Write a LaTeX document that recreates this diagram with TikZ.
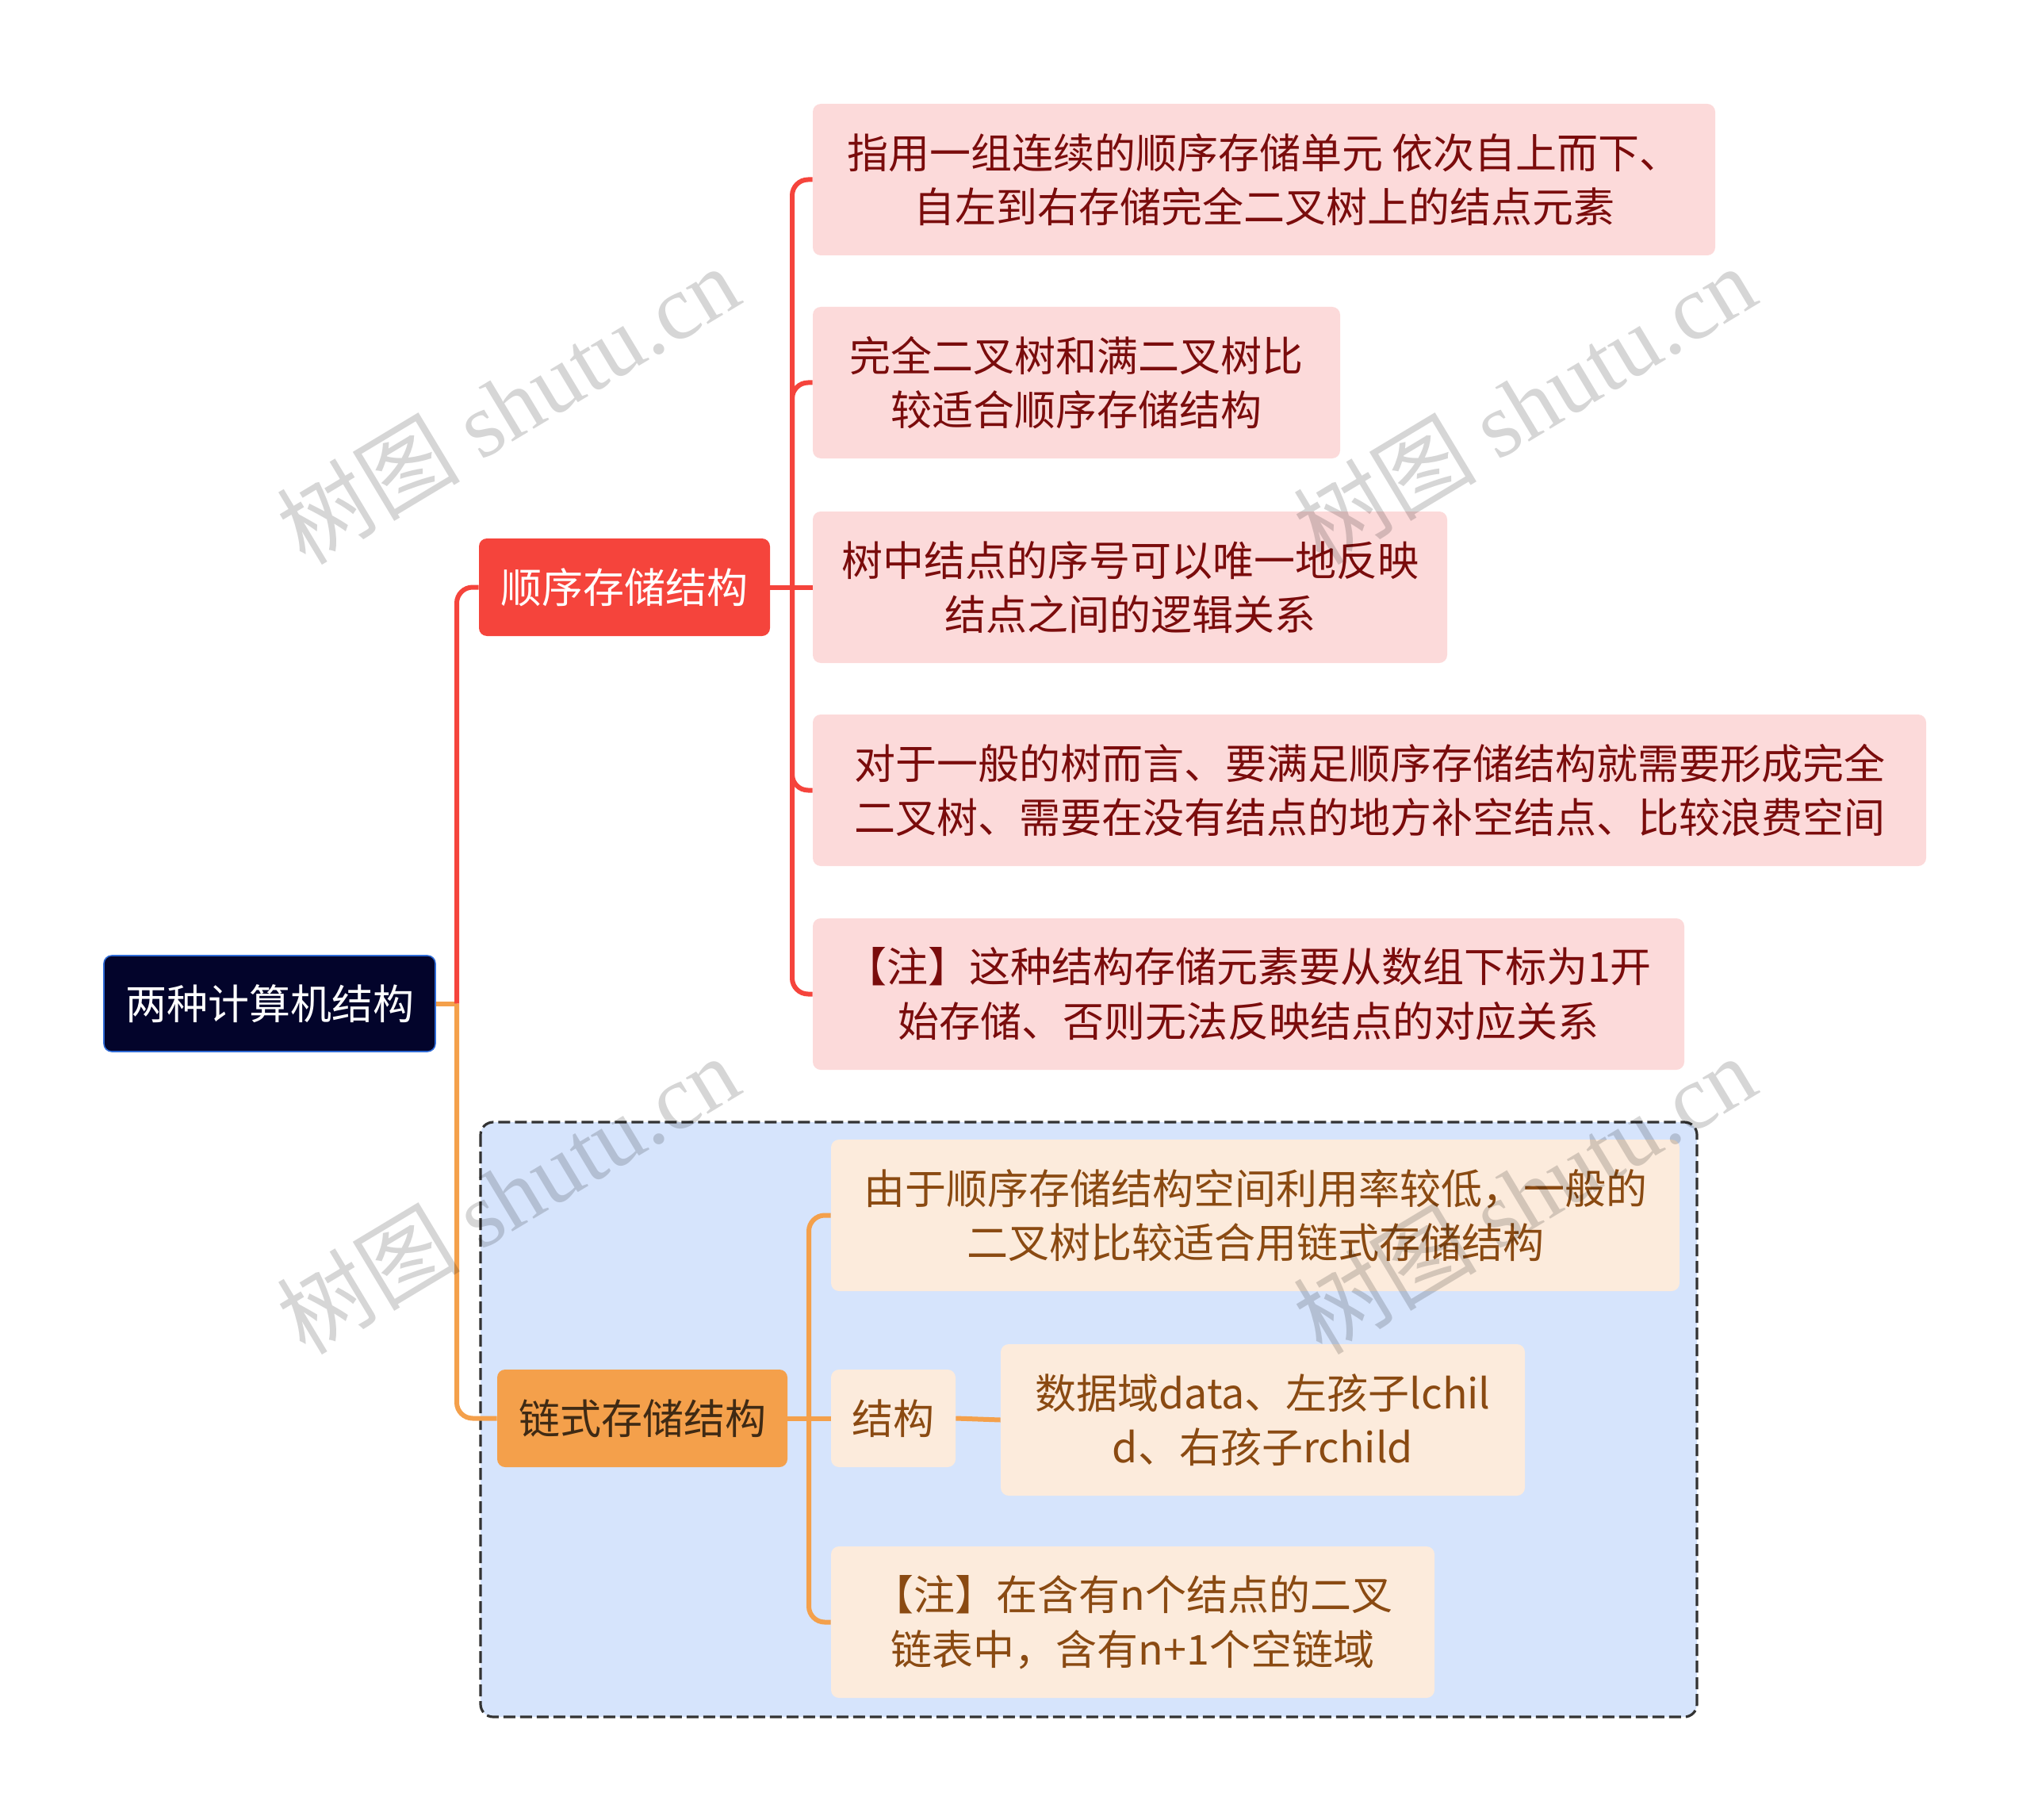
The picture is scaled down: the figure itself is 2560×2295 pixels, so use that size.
\documentclass[tikz,border=0pt]{standalone}
\usepackage{fontspec}
\setmainfont{Noto Sans CJK SC}
\newfontfamily\markfont{Liberation Serif}
\usepackage{tikz}
\usetikzlibrary{positioning}

\definecolor{rootbg}{HTML}{03042B}
\definecolor{rootline}{HTML}{2F6BD6}
\definecolor{seqred}{HTML}{F5443C}
\definecolor{seqpink}{HTML}{FCDADA}
\definecolor{seqtext}{HTML}{7A0C0C}
\definecolor{linkorange}{HTML}{F4A04B}
\definecolor{linkbeige}{HTML}{FCEBDC}
\definecolor{linktext}{HTML}{8A4A12}
\definecolor{linkdark}{HTML}{3F2A14}
\definecolor{areablue}{HTML}{D6E4FC}

\begin{document}
\begin{tikzpicture}[x=0.5pt,y=-0.5pt,
  font=\fontsize{26pt}{34.3pt}\selectfont,
  box/.style={rounded corners=5pt,align=center,inner sep=0pt},
  root node/.style={box,fill=rootbg,draw=rootline,line width=0.8pt,text=white},
  seq node/.style={box,fill=seqred,text=white,minimum height=61.5pt},
  seq leaf/.style={box,fill=seqpink,text=seqtext,minimum height=95.5pt},
  link node/.style={box,fill=linkorange,text=linkdark,minimum height=61.5pt},
  link leaf/.style={box,fill=linkbeige,text=linktext,minimum height=95.5pt},
  seq line/.style={draw=seqred,line width=3pt,rounded corners=10pt},
  link line/.style={draw=linkorange,line width=3pt,rounded corners=10pt},
  watermark/.style={rotate=31,text=black,text opacity=0.16,
    font=\fontsize{58pt}{58pt}\selectfont}]
    \useasboundingbox (0,0) rectangle (2560,2295);
    \draw[draw=black!80,fill=areablue,line width=1.6pt,
      dash pattern=on 7.5pt off 3pt,rounded corners=8pt] (606,1415) rectangle (2140,2165);

    \node[root node,minimum width=209pt,minimum height=60.5pt] (root) at (340,1265.5) {两种计算机结构};
    \node[seq node,minimum width=183.5pt] (seq) at (787.5,740.5) {顺序存储结构};
    \node[seq leaf,minimum width=569pt] (s1) at (1594,226.5)
      {指用一组连续的顺序存储单元 依次自上而下、\\自左到右存储完全二叉树上的结点元素};
    \node[seq leaf,minimum width=332.5pt] (s2) at (1357.5,482.5)
      {完全二叉树和满二叉树比\\较适合顺序存储结构};
    \node[seq leaf,minimum width=400pt] (s3) at (1425,740.5)
      {树中结点的序号可以唯一地反映\\结点之间的逻辑关系};
    \node[seq leaf,minimum width=702pt] (s4) at (1727,996.5)
      {对于一般的树而言、要满足顺序存储结构就需要形成完全\\二叉树、需要在没有结点的地方补空结点、比较浪费空间};
    \node[seq leaf,minimum width=549.5pt] (s5) at (1574.5,1253.5)
      {【注】这种结构存储元素要从数组下标为1开\\始存储、否则无法反映结点的对应关系};

    \node[link node,minimum width=183pt] (link) at (810,1788.5) {链式存储结构};
    \node[link leaf,minimum width=535pt] (l1) at (1583,1532.5)
      {由于顺序存储结构空间利用率较低，一般的\\二叉树比较适合用链式存储结构};
    \node[link leaf,minimum width=78.5pt,minimum height=61.5pt] (l2) at (1126.5,1788.5) {结构};
    \node[link leaf,minimum width=380.5pt] (l3) at (1428.5,2045.5)
      {【注】在含有n个结点的二叉\\链表中，含有n+1个空链域};
    \node[link leaf,minimum width=330.5pt] (data) at (1592.5,1790.5)
      {数据域data、左孩子lchil\\d、右孩子rchild};

    % connectors
    \coordinate (rj) at (576,1265.5);
    \coordinate (sj) at (999,740.5);
    \coordinate (lj) at (1020,1788.5);
    \draw[link line] (root.east) -- (rj);
    \draw[seq line] (rj) |- (seq.west);
    \draw[link line] (rj) |- (link.west);
    \draw[seq line] (seq.east) -- (s3.west);
    \foreach \n in {s1,s2,s4,s5}
      \draw[seq line] (sj) |- (\n.west);
    \draw[link line] (link.east) -- (l2.west);
    \foreach \n in {l1,l3}
      \draw[link line] (lj) |- (\n.west);
    \draw[link line] (l2.east) -- (data.west);

    % watermarks
    \node[watermark] (wm1) at (640,510) {树图 {\markfont shutu.cn}};
    \node[watermark] (wm2) at (1922,510) {树图 {\markfont shutu.cn}};
    \node[watermark] (wm3) at (640,1506) {树图 {\markfont shutu.cn}};
    \node[watermark] (wm4) at (1922,1506) {树图 {\markfont shutu.cn}};
\end{tikzpicture}
\end{document}
